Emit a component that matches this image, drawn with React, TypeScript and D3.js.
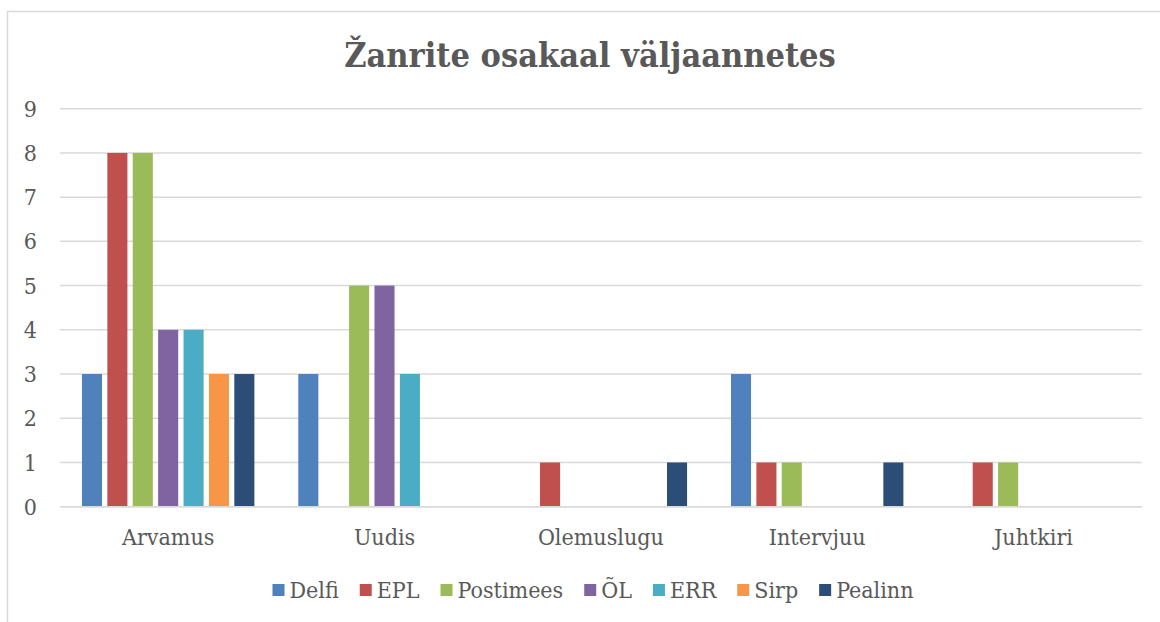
import { useEffect, useRef } from 'react';
import * as d3 from 'd3';

const categories = ['Arvamus', 'Uudis', 'Olemuslugu', 'Intervjuu', 'Juhtkiri'];
const seriesNames = ['Delfi', 'EPL', 'Postimees', 'ÕL', 'ERR', 'Sirp', 'Pealinn'];
const seriesColors = ['#4f81bd', '#c0504d', '#9bbb59', '#8064a2', '#4bacc6', '#f79646', '#2c4d75'];

// one array per series, values in category order
const delfi = [3, 3, 0, 3, 0];
const epl = [8, 0, 1, 1, 1];
const postimees = [8, 5, 0, 1, 1];
const ol = [4, 5, 0, 0, 0];
const err = [4, 3, 0, 0, 0];
const sirp = [3, 0, 0, 0, 0];
const pealinn = [3, 0, 1, 1, 0];

const yTicks = [0, 1, 2, 3, 4, 5, 6, 7, 8, 9];
const title = 'Žanrite osakaal väljaannetes';

const W = 1160;
const H = 622;
const FONT = '"DejaVu Serif Condensed", "DejaVu Serif", serif';
const TEXT = '#595959';
const GRID = '#d9d9d9';

const App = () => {
    const ref = useRef<SVGSVGElement>(null);

    useEffect(() => {
        const seriesValues = [delfi, epl, postimees, ol, err, sirp, pealinn];
        const svg = d3.select(ref.current);
        svg.selectAll('*').remove();

        const left = 60;
        const right = 1141.7;
        const y0 = 506.7;
        const y9 = 108.7;

        // chart frame (cut by the picture edge on the right and bottom)
        svg.append('rect')
            .attr('x', 7.5).attr('y', 11.5)
            .attr('width', 1300).attr('height', 800)
            .attr('fill', '#fff')
            .attr('stroke', GRID).attr('stroke-width', 1.5);

        svg.append('text')
            .attr('x', 590).attr('y', 67)
            .attr('text-anchor', 'middle')
            .attr('font-family', FONT)
            .attr('font-stretch', 'condensed')
            .attr('font-weight', 'bold')
            .attr('font-size', 34)
            .attr('fill', TEXT)
            .text(title);

        const y = d3.scaleLinear().domain([0, 9]).range([y0, y9]);
        const x0 = d3.scaleBand<string>()
            .domain(categories)
            .range([left, right])
            .paddingInner(0.203)
            .paddingOuter(0.1015);
        const x1 = d3.scaleBand<string>()
            .domain(seriesNames)
            .range([0, x0.bandwidth()])
            .paddingInner(0.21)
            .paddingOuter(0);

        // gridlines
        svg.append('g')
            .selectAll('line')
            .data(yTicks)
            .enter().append('line')
            .attr('x1', left).attr('x2', right)
            .attr('y1', d => y(d)).attr('y2', d => y(d))
            .attr('stroke', GRID).attr('stroke-width', 1.5);

        // y labels
        svg.append('g')
            .selectAll('text')
            .data(yTicks)
            .enter().append('text')
            .attr('x', 37).attr('y', d => y(d))
            .attr('dy', '0.35em')
            .attr('text-anchor', 'end')
            .attr('font-family', FONT)
            .attr('font-stretch', 'condensed')
            .attr('font-size', 23)
            .attr('fill', TEXT)
            .text(d => d);

        // bars
        seriesNames.forEach((name, si) => {
            svg.append('g')
                .selectAll('rect')
                .data(seriesValues[si].map((v, ci) => ({ v, c: categories[ci] })).filter(d => d.v > 0))
                .enter().append('rect')
                .attr('x', d => (x0(d.c) as number) + (x1(name) as number))
                .attr('y', d => y(d.v))
                .attr('width', x1.bandwidth())
                .attr('height', d => y0 - y(d.v))
                .attr('fill', seriesColors[si]);
        });

        // redraw the baseline over the bars
        svg.append('line')
            .attr('x1', left).attr('x2', right)
            .attr('y1', y0).attr('y2', y0)
            .attr('stroke', GRID).attr('stroke-width', 1.5);

        // category labels
        svg.append('g')
            .selectAll('text')
            .data(categories)
            .enter().append('text')
            .attr('x', d => (x0(d) as number) + x0.bandwidth() / 2)
            .attr('y', 545)
            .attr('text-anchor', 'middle')
            .attr('font-family', FONT)
            .attr('font-stretch', 'condensed')
            .attr('font-size', 23)
            .attr('fill', TEXT)
            .text(d => d);

        // legend, laid out from measured text widths
        const legend = svg.append('g');
        const items = legend.selectAll('g')
            .data(seriesNames)
            .enter().append('g');
        items.append('rect')
            .attr('width', 12).attr('height', 12)
            .attr('y', 584)
            .attr('fill', (_, i) => seriesColors[i]);
        items.append('text')
            .attr('x', 17).attr('y', 598)
            .attr('font-family', FONT)
            .attr('font-stretch', 'condensed')
            .attr('font-size', 23)
            .attr('fill', TEXT)
            .text(d => d);
        const widths: number[] = [];
        items.select('text').each(function () {
            widths.push((this as SVGTextElement).getComputedTextLength());
        });
        const gap = 21;
        const total = d3.sum(widths.map(w => 17 + w)) + gap * (widths.length - 1);
        let cx = 593 - total / 2;
        items.attr('transform', (_, i) => {
            const t = `translate(${cx},0)`;
            cx += 17 + widths[i] + gap;
            return t;
        });
    }, []);

    return (
        <svg ref={ref} width={W} height={H}
            style={{ position: 'absolute', left: 0, top: 0, background: '#fff' }} />
    );
};

export default App;
